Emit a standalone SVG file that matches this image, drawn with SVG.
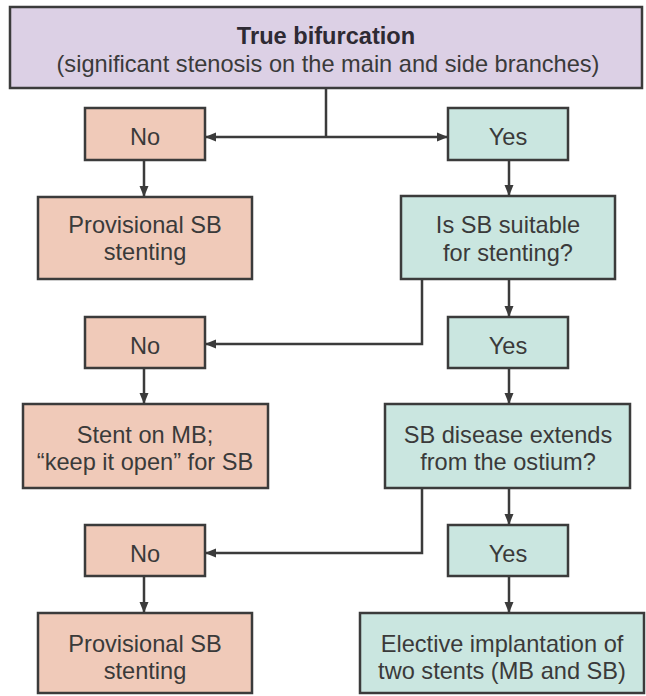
<svg xmlns="http://www.w3.org/2000/svg" width="646" height="696" viewBox="0 0 646 696">
<style>
  .box { stroke: #3b3b3b; stroke-width: 2.5; }
  .top { fill: #dcd0e5; }
  .no { fill: #f0cab9; }
  .yes { fill: #cae6e0; }
  text { font-family: "Liberation Sans", Arial, sans-serif; font-size: 23.6px; fill: #3a3a3a; text-anchor: middle; }
  .b { font-weight: bold; fill: #2e2a33; }
  .conn { fill: none; stroke: #3b3b3b; stroke-width: 2.5; }
</style>
<defs>
  <marker id="ah" markerUnits="userSpaceOnUse" markerWidth="11" markerHeight="10" refX="10" refY="5" orient="auto">
    <path d="M0,0.5 L11,5 L0,9.5 z" fill="#3b3b3b"/>
  </marker>
  <marker id="ahs" markerUnits="userSpaceOnUse" markerWidth="11" markerHeight="10" refX="1" refY="5" orient="auto">
    <path d="M11,0.5 L0,5 L11,9.5 z" fill="#3b3b3b"/>
  </marker>
</defs>
<rect width="646" height="696" fill="#ffffff"/>

<g id="connectors">
  <path class="conn" d="M326,88 V137"/>
  <path class="conn" d="M206,137 H447" marker-start="url(#ahs)" marker-end="url(#ah)"/>
  <path class="conn" d="M144,160 V196" marker-end="url(#ah)"/>
  <path class="conn" d="M509,160 V195" marker-end="url(#ah)"/>
  <path class="conn" d="M422,279 V344 H206" marker-end="url(#ah)"/>
  <path class="conn" d="M509,279 V316" marker-end="url(#ah)"/>
  <path class="conn" d="M144,368 V403" marker-end="url(#ah)"/>
  <path class="conn" d="M509,368 V403" marker-end="url(#ah)"/>
  <path class="conn" d="M422,488 V553 H206" marker-end="url(#ah)"/>
  <path class="conn" d="M509,488 V524" marker-end="url(#ah)"/>
  <path class="conn" d="M144,576 V612" marker-end="url(#ah)"/>
  <path class="conn" d="M509,576 V612" marker-end="url(#ah)"/>
</g>

<g id="true-bifurcation">
  <rect class="box top" x="10" y="7" width="632" height="81"/>
  <text class="b" x="326" y="44">True bifurcation</text>
  <text x="328" y="72">(significant stenosis on the main and side branches)</text>
</g>

<g id="no1">
  <rect class="box no" x="85" y="108" width="120" height="52"/>
  <text x="145" y="145">No</text>
</g>
<g id="yes1">
  <rect class="box yes" x="448" y="108" width="120" height="52"/>
  <text x="508" y="145">Yes</text>
</g>

<g id="provisional1">
  <rect class="box no" x="38" y="197" width="214" height="82"/>
  <text x="145" y="233">Provisional SB</text>
  <text x="145" y="260">stenting</text>
</g>
<g id="suitable">
  <rect class="box yes" x="401" y="196" width="214" height="83"/>
  <text x="508" y="233">Is SB suitable</text>
  <text x="508" y="261">for stenting?</text>
</g>

<g id="no2">
  <rect class="box no" x="85" y="317" width="120" height="51"/>
  <text x="145" y="354">No</text>
</g>
<g id="yes2">
  <rect class="box yes" x="448" y="317" width="120" height="51"/>
  <text x="508" y="354">Yes</text>
</g>

<g id="stent-mb">
  <rect class="box no" x="23" y="404" width="245" height="84"/>
  <text x="145" y="443">Stent on MB;</text>
  <text x="145" y="470">“keep it open” for SB</text>
</g>
<g id="disease-extends">
  <rect class="box yes" x="385" y="404" width="245" height="84"/>
  <text x="508" y="443">SB disease extends</text>
  <text x="508" y="470">from the ostium?</text>
</g>

<g id="no3">
  <rect class="box no" x="85" y="525" width="120" height="51"/>
  <text x="145" y="562">No</text>
</g>
<g id="yes3">
  <rect class="box yes" x="448" y="525" width="120" height="51"/>
  <text x="508" y="562">Yes</text>
</g>

<g id="provisional2">
  <rect class="box no" x="38" y="613" width="214" height="80"/>
  <text x="145" y="652">Provisional SB</text>
  <text x="145" y="679">stenting</text>
</g>
<g id="elective">
  <rect class="box yes" x="360" y="613" width="284" height="80"/>
  <text x="502" y="652">Elective implantation of</text>
  <text x="502" y="679">two stents (MB and SB)</text>
</g>
</svg>
